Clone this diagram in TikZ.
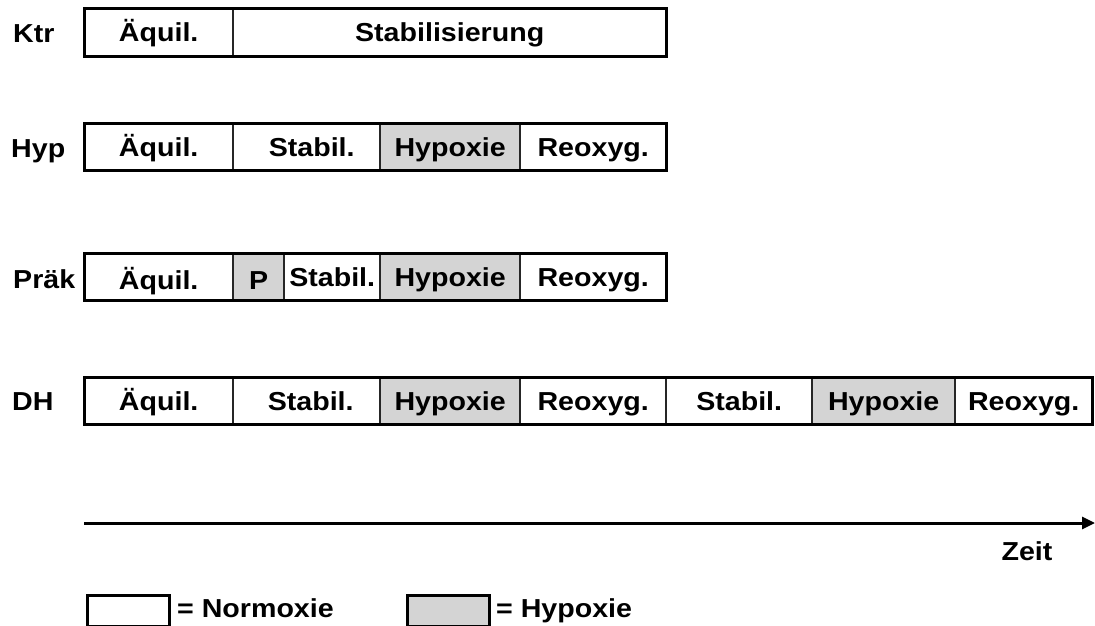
\documentclass[tikz,border=0pt]{standalone}
\usepackage{fontspec}
\setmainfont{Liberation Sans}[FakeStretch=1.1]
\usetikzlibrary{arrows.meta}
\definecolor{hgray}{RGB}{212,212,212}
\begin{document}
\begin{tikzpicture}[x=1pt,y=-1pt,
  txt/.style={font=\fontsize{26}{30}\selectfont\bfseries},
  cell/.style={txt, rectangle, inner sep=0pt, anchor=north west, minimum height=47pt, text height=22pt, text depth=3.4pt},
  lower/.style={text height=26pt, text depth=0pt},
  hyp/.style={cell, fill=hgray},
  frame/.style={line width=3pt, black},
  div/.style={line width=2pt, black!85},
  rowlab/.style={txt, anchor=base west, inner sep=0pt},
  legbox/.style={draw, line width=2.5pt, inner sep=0pt, anchor=north west, minimum width=82pt, minimum height=31pt}
]
\useasboundingbox (0,0) rectangle (1095,626);

% Ktr
\node[rowlab] (lk) at (13,43) {Ktr};
\node[cell, minimum width=149pt] (k1) at (84,9) {Äquil.};
\node[cell, minimum width=433pt] (k2) at (233,9) {Stabilisierung};
\draw[div] (k1.north east) -- (k1.south east);
\draw[frame] (k1.north west) rectangle (k2.south east);

% Hyp
\node[rowlab] (lh) at (11,157) {Hyp};
\node[cell, minimum width=149pt] (h1) at (84,123) {Äquil.};
\node[cell, minimum width=147pt] (h2) at (233,123) {\hspace{10pt}Stabil.};
\node[hyp, minimum width=140pt] (h3) at (380,123) {Hypoxie};
\node[cell, minimum width=146pt] (h4) at (520,123) {Reoxyg.\hspace{10pt}};
\foreach \n in {h1,h2,h3} \draw[div] (\n.north east) -- (\n.south east);
\draw[frame] (h1.north west) rectangle (h4.south east);

% Praek
\node[rowlab] (lp) at (13,288) {Präk};
\node[cell, lower, minimum width=149pt] (p1) at (84,253) {Äquil.};
\node[hyp, lower, minimum width=51pt] (p2) at (233,253) {P};
\node[cell, minimum width=96pt] (p3) at (284,253) {Stabil.};
\node[hyp, minimum width=140pt] (p4) at (380,253) {Hypoxie};
\node[cell, minimum width=146pt] (p5) at (520,253) {Reoxyg.};
\foreach \n in {p1,p2,p3,p4} \draw[div] (\n.north east) -- (\n.south east);
\draw[frame] (p1.north west) rectangle (p5.south east);

% DH
\node[rowlab] (ld) at (12,410) {DH};
\node[cell, minimum width=149pt] (d1) at (84,377) {Äquil.};
\node[cell, minimum width=147pt] (d2) at (233,377) {\hspace{8pt}Stabil.};
\node[hyp, minimum width=140pt] (d3) at (380,377) {Hypoxie};
\node[cell, minimum width=146pt] (d4) at (520,377) {Reoxyg.};
\node[cell, minimum width=146pt] (d5) at (666,377) {Stabil.};
\node[hyp, minimum width=143pt] (d6) at (812,377) {Hypoxie};
\node[cell, minimum width=137pt] (d7) at (955,377) {Reoxyg.};
\foreach \n in {d1,d2,d3,d4,d5,d6} \draw[div] (\n.north east) -- (\n.south east);
\draw[frame] (d1.north west) rectangle (d7.south east);

% time axis
\coordinate (a0) at (84,523);
\coordinate (a1) at (1095,523);
\draw[line width=3pt, -{Triangle[length=13pt,width=12pt]}] (a0) -- (a1);
\node[txt, anchor=base, inner sep=0pt] (zeit) at (1027,560) {Zeit};

% legend
\node[legbox] (lb1) at (86,594) {};
\node[txt, anchor=base west, inner sep=0pt] (lt1) at (177,617) {= Normoxie};
\node[legbox, fill=hgray] (lb2) at (406,594) {};
\node[txt, anchor=base west, inner sep=0pt] (lt2) at (496,617) {= Hypoxie};
\end{tikzpicture}
\end{document}
